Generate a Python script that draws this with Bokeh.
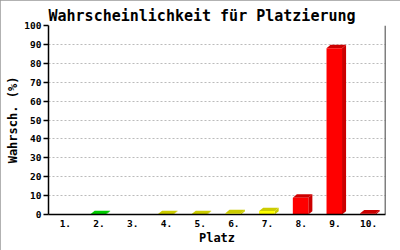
from bokeh.plotting import figure
from bokeh.models import Range1d, FixedTicker, Span
from bokeh.embed import file_html
from bokeh.resources import INLINE

# ---- data ----
places = ["1.", "2.", "3.", "4.", "5.", "6.", "7.", "8.", "9.", "10."]
probs = [0.0, 0.3, 0.0, 0.3, 0.3, 0.7, 1.8, 8.9, 88.0, 0.6]
y_ticks = [0, 10, 20, 30, 40, 50, 60, 70, 80, 90, 100]

# ---- styles ----
front_colors = ["#00ff00"] * 3 + ["#ffff00"] * 4 + ["#ff0000"] * 3
dark_colors = ["#00cc00"] * 3 + ["#cccc00"] * 4 + ["#cc0000"] * 3
FONT = "DejaVu Sans Mono"

p = figure(width=400, height=250, output_backend="svg", toolbar_location=None,
           x_range=Range1d(0.5, 10.5), y_range=Range1d(0, 100),
           min_border_left=48, min_border_right=15, min_border_top=25,
           min_border_bottom=36)
p.background_fill_color = "white"
p.border_fill_color = "white"
p.outline_line_color = None
p.styles = {"outline": "2px solid #999999", "outline-offset": "-2px"}

p.title.text = "Wahrscheinlichkeit für Platzierung"
p.title.text_font = FONT
p.title.text_font_size = "15px"
p.title.text_font_style = "bold"
p.title.text_color = "black"
p.title.align = "left"
p.title.standoff = 1

# 3D bar geometry (front face + depth)
left_off, right_off = -0.25, 0.21
dx, dy = 0.12, 1.75

xs_side, ys_side, xs_top, ys_top = [], [], [], []
fl, fr, ft, fc, dc = [], [], [], [], []
for i, v in enumerate(probs):
    if v <= 0:
        continue
    c = i + 1
    xl, xr = c + left_off, c + right_off
    xs_side.append([xr, xr + dx, xr + dx, xr])
    ys_side.append([0, dy, v + dy, v])
    xs_top.append([xl, xl + dx, xr + dx, xr])
    ys_top.append([v, v + dy, v + dy, v])
    fl.append(xl); fr.append(xr); ft.append(v)
    fc.append(front_colors[i]); dc.append(dark_colors[i])

p.patches(xs_side, ys_side, fill_color=dc, line_color=None)
p.patches(xs_top, ys_top, fill_color=dc, line_color=None)
p.quad(left=fl, right=fr, bottom=0, top=ft, fill_color=fc, line_color=None)

# grid
p.xgrid.visible = False
p.ygrid.ticker = FixedTicker(ticks=y_ticks[1:])
p.ygrid.grid_line_color = "#bbbbbb"
p.ygrid.grid_line_dash = "2 2"
p.ygrid.grid_line_width = 1

# axes
p.xaxis.ticker = FixedTicker(ticks=list(range(1, 11)))
p.xaxis.major_label_overrides = {i + 1: s for i, s in enumerate(places)}
p.xaxis.major_tick_line_color = None
p.xaxis.major_tick_out = 0
p.xaxis.major_tick_in = 0
p.xaxis.minor_tick_line_color = None
p.xaxis.minor_tick_out = 0
p.xaxis.axis_label = "Platz"
p.xaxis.major_label_standoff = 5
p.xaxis.axis_label_standoff = 1

p.yaxis.ticker = FixedTicker(ticks=y_ticks)
p.yaxis.minor_tick_line_color = None
p.yaxis.major_tick_in = 0
p.yaxis.major_tick_out = 5
p.yaxis.major_label_standoff = 2
p.yaxis.axis_label = "Wahrsch. (%)"
p.yaxis.axis_label_standoff = 1

for ax in (p.xaxis[0], p.yaxis[0]):
    ax.axis_line_color = "black"
    ax.axis_line_width = 1.5
    ax.major_tick_line_width = 1.5
    ax.major_label_text_font = FONT
    ax.major_label_text_font_size = "9.5px"
    ax.major_label_text_font_style = "bold"
    ax.major_label_text_color = "black"
    ax.axis_label_text_font = FONT
    ax.axis_label_text_font_size = "12px"
    ax.axis_label_text_font_style = "bold"
    ax.axis_label_text_color = "black"

p.add_layout(Span(location=10.5, dimension="height", line_color="black",
                  line_width=1.5))

open("out.html", "w").write(file_html(p, INLINE))
